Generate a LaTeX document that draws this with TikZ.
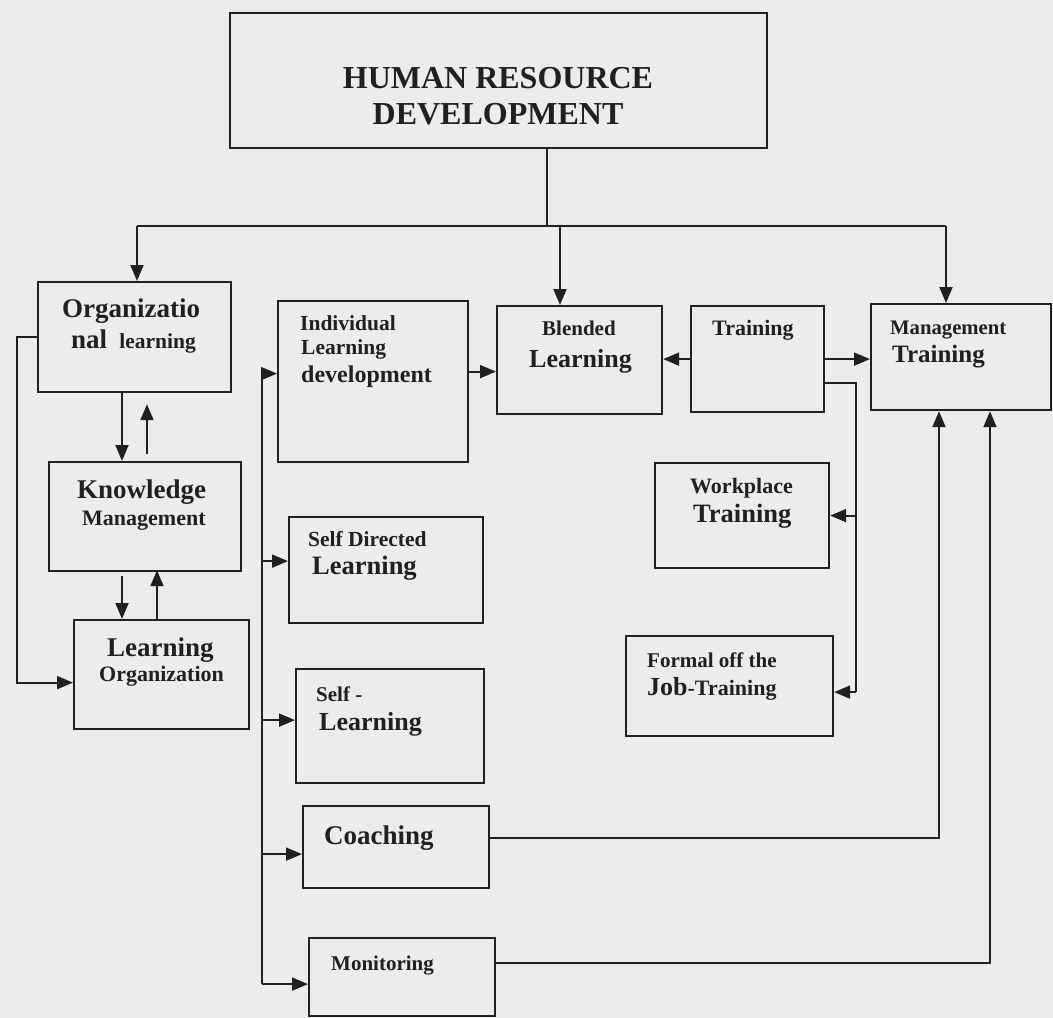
\documentclass[tikz,border=0pt]{standalone}
\usepackage{fontspec}
\setmainfont{Liberation Serif}
\usetikzlibrary{arrows.meta,calc}
\definecolor{ink}{RGB}{32,32,32}
\definecolor{paper}{RGB}{236,236,236}
\newcommand\fsz[1]{\fontsize{#1}{#1}\selectfont\bfseries}
\newcommand\mybox[5]{\node[box,minimum width={(#4-#2)*1pt},minimum height={(#5-#3)*1pt}] (#1) at (#2,#3) {};}
\begin{document}
\begin{tikzpicture}[x=1pt,y=-1pt,
  box/.style={draw=ink,line width=2.2pt,inner sep=0pt,anchor=north west},
  ln/.style={draw=ink,line width=1.9pt},
  arr/.style={draw=ink,line width=1.9pt,-{Triangle[length=16pt,width=13pt]}},
  txt/.style={anchor=base west,inner sep=0pt,text=ink}]
\fill[paper] (0,0) rectangle (1053,1018);
\useasboundingbox (0,0) rectangle (1053,1018);

% boxes
\mybox{hrd}{229}{12}{766}{147}
\mybox{org}{37}{281}{230}{391}
\mybox{know}{48}{461}{240}{570}
\mybox{lo}{73}{619}{248}{728}
\mybox{indiv}{277}{300}{467}{461}
\mybox{selfdir}{288}{516}{482}{622}
\mybox{selfl}{295}{668}{483}{782}
\mybox{coach}{302}{805}{488}{887}
\mybox{mon}{308}{937}{494}{1015}
\mybox{blend}{496}{305}{661}{413}
\mybox{train}{690}{305}{823}{411}
\mybox{mgmt}{870}{303}{1050}{409}
\mybox{work}{654}{462}{828}{567}
\mybox{form}{625}{635}{832}{735}

% texts
\node[txt,anchor=base,font=\fsz{32}] (thrd1) at (498,88) {HUMAN RESOURCE};
\node[txt,anchor=base,font=\fsz{32}] (thrd2) at (498,124) {DEVELOPMENT};

\node[txt,font=\fsz{27}] (torg1) at (62,317) {Organizatio};
\node[txt,font=\fsz{27}] (torg2) at (71,348) {nal {\fsz{21.5} learning}};

\node[txt,font=\fsz{27}] (tknow1) at (77,498) {Knowledge};
\node[txt,font=\fsz{22}] (tknow2) at (82,525) {Management};

\node[txt,font=\fsz{27}] (tlo1) at (107,656) {Learning};
\node[txt,font=\fsz{22}] (tlo2) at (99,681) {Organization};

\node[txt,font=\fsz{21.5}] (tind1) at (300,330) {Individual};
\node[txt,font=\fsz{21.5}] (tind2) at (301,354) {Learning};
\node[txt,font=\fsz{24}] (tind3) at (301,382) {development};

\node[txt,font=\fsz{21.5}] (tsd1) at (308,546) {Self Directed};
\node[txt,font=\fsz{26.5}] (tsd2) at (312,574) {Learning};

\node[txt,font=\fsz{21}] (tsl1) at (316,701) {Self -};
\node[txt,font=\fsz{26}] (tsl2) at (319,730) {Learning};

\node[txt,font=\fsz{27}] (tco) at (324,844) {Coaching};
\node[txt,font=\fsz{21}] (tmo) at (331,970) {Monitoring};

\node[txt,font=\fsz{21}] (tbl1) at (542,335) {Blended};
\node[txt,font=\fsz{26}] (tbl2) at (529,367) {Learning};

\node[txt,font=\fsz{22}] (ttr) at (712,335) {Training};

\node[txt,font=\fsz{20.7}] (tmg1) at (890,334) {Management};
\node[txt,font=\fsz{25}] (tmg2) at (892,362) {Training};

\node[txt,font=\fsz{22}] (twp1) at (690,493) {Workplace};
\node[txt,font=\fsz{26.5}] (twp2) at (693,522) {Training};

\node[txt,font=\fsz{21}] (tfo1) at (647,667) {Formal off the};
\node[txt,font=\fsz{26}] (tfo2) at (647,695) {Job{\fsz{22}-Training}};

% connectors from HRD
\coordinate (hl) at (137,226);
\coordinate (hr) at (946,226);
\coordinate (hm) at (547,226);
\coordinate (hb) at (560,226);
\draw[ln] (hrd.south -| hm) -- (hm);
\draw[ln] (hl) -- (hr);
\draw[arr] (hl) -- (hl |- org.north);
\draw[arr] (hb) -- (hb |- blend.north);
\draw[arr] (hr) -- (hr |- mgmt.north);

% left column
\coordinate (a1) at (122,0);
\coordinate (a2) at (147,0);
\coordinate (a3) at (157,0);
\draw[arr] (org.south -| a1) -- (know.north -| a1);
\draw[arr] ($(know.north -| a2)+(0,-7)$) -- ($(org.south -| a2)+(0,11)$);
\draw[arr] ($(know.south -| a1)+(0,4)$) -- (lo.north -| a1);
\draw[arr] (lo.north -| a3) -- ($(know.south -| a3)+(0,-2)$);
\coordinate (lx) at (17,0);
\coordinate (loin) at ($(lo.west)+(0,8)$);
\draw[arr] (org.west) -- (org.west -| lx) -- (loin -| lx) -- (loin);

% bus
\coordinate (bx) at (262,0);
\coordinate (b1) at ($(indiv.west)+(0,-8)$);
\coordinate (b2) at ($(selfdir.west)+(0,-9)$);
\coordinate (b3) at ($(selfl.west)+(0,-6)$);
\coordinate (b4) at ($(coach.west)+(0,7)$);
\coordinate (b5) at ($(mon.west)+(0,7)$);
\draw[ln] (b1 -| bx) -- (b5 -| bx);
\draw[arr] (b1 -| bx) -- (b1);
\draw[arr] (b2 -| bx) -- (b2);
\draw[arr] (b3 -| bx) -- (b3);
\draw[arr] (b4 -| bx) -- (b4);
\draw[arr] (b5 -| bx) -- (b5);

% middle row
\coordinate (ib) at ($(indiv.east)+(0,-10)$);
\draw[arr] (ib) -- (ib -| blend.west);
\draw[arr] (train.west) -- (train.west -| blend.east);
\draw[arr] (train.east) -- (train.east -| mgmt.west);

% training to workplace / formal
\coordinate (vx) at (856,0);
\coordinate (t1) at ($(train.east)+(0,24)$);
\coordinate (fj) at ($(form.east)+(0,6)$);
\draw[ln] (t1) -| (fj -| vx);
\draw[arr] (work.east -| vx) -- (work.east);
\draw[arr] (fj -| vx) -- (fj);

% coaching / monitoring to management
\coordinate (cx) at (939,0);
\coordinate (mx) at (990,0);
\coordinate (ce) at ($(coach.east)+(0,-9)$);
\coordinate (me) at ($(mon.east)+(0,-14)$);
\draw[arr] (ce) -| (mgmt.south -| cx);
\draw[arr] (me) -| (mgmt.south -| mx);
\end{tikzpicture}
\end{document}
